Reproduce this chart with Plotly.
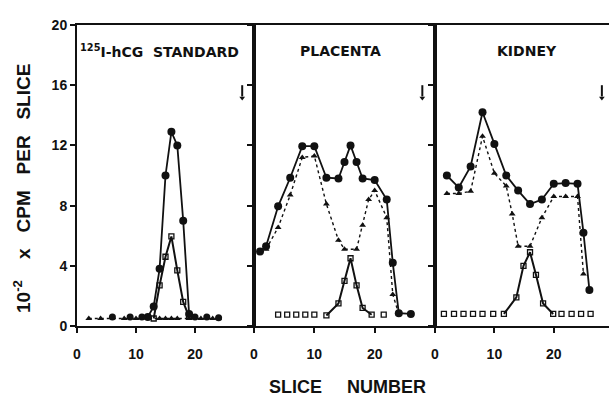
import plotly.graph_objects as go

# ---------------- data ----------------
# Panel 1: 125I-hCG standard
p1_circ_x = [12, 13, 14, 15, 16, 17, 18, 19]
p1_circ_y = [0.6, 1.3, 3.8, 10.0, 12.9, 12.0, 7.0, 0.8]
p1_circ_base_x = [6, 9, 11, 20, 22, 24]
p1_circ_base_y = [0.6, 0.6, 0.6, 0.6, 0.6, 0.55]
p1_tri_x = [2, 4, 8, 10, 12, 14, 15, 16, 17, 19, 21, 23, 24]
p1_tri_y = [0.5, 0.5, 0.5, 0.5, 0.5, 0.5, 0.5, 0.5, 0.5, 0.5, 0.5, 0.5, 0.5]
p1_sq_x = [13, 14, 15, 16, 17, 18, 19]
p1_sq_y = [0.5, 2.7, 4.6, 5.95, 3.7, 1.6, 0.6]
p1_sq_base_x = []
p1_sq_base_y = []

# Panel 2: placenta
p2_circ_x = [1, 2, 4, 6, 8, 10, 12, 14, 15, 16, 17, 18, 20, 22, 23, 24, 26]
p2_circ_y = [4.95, 5.3, 7.95, 9.85, 11.95, 11.95, 9.85, 9.8, 10.9, 12.0, 10.9, 9.8, 9.7, 8.4, 4.2, 0.85, 0.8]
p2_circ_base_x = []
p2_circ_base_y = []
p2_tri_x = [2, 4, 6, 8, 10, 12, 14, 15, 17, 18, 19, 20, 22, 23, 24]
p2_tri_y = [5.1, 6.55, 8.7, 11.2, 11.3, 8.1, 5.7, 5.1, 5.1, 6.7, 8.4, 9.0, 7.2, 2.1, 0.8]
p2_sq_x = [12, 14, 15, 16, 17, 18, 19.5]
p2_sq_y = [0.7, 1.5, 3.0, 4.5, 2.7, 1.2, 0.75]
p2_sq_base_x = [4, 5.5, 7, 8.5, 10, 21.5]
p2_sq_base_y = [0.75, 0.75, 0.75, 0.75, 0.75, 0.75]

# Panel 3: kidney
p3_circ_x = [2, 4, 6, 8, 10, 12, 14, 16, 18, 20, 22, 24, 25, 26]
p3_circ_y = [10.0, 9.2, 10.6, 14.2, 12.1, 10.0, 9.0, 8.1, 8.4, 9.45, 9.5, 9.45, 6.2, 2.4]
p3_circ_base_x = []
p3_circ_base_y = []
p3_tri_x = [2, 4, 6, 8, 10, 12, 13, 14, 16, 18, 20, 22, 24, 25]
p3_tri_y = [8.8, 8.8, 8.95, 12.6, 10.15, 9.3, 7.45, 5.3, 5.3, 7.2, 8.6, 8.6, 8.6, 3.45]
p3_sq_x = [11.6, 13.7, 14.9, 16, 17, 18.2, 19.9]
p3_sq_y = [0.8, 1.9, 4.0, 4.9, 3.4, 1.5, 0.8]
p3_sq_base_x = [1.5, 3.2, 4.8, 6.4, 8, 9.8, 21.3, 23, 24.6, 26.2]
p3_sq_base_y = [0.8] * 10

panel_titles = ["<sup>125</sup>I-hCG\u00a0\u00a0STANDARD", "PLACENTA", "KIDNEY"]
panel_title_x = [14.0, 14.4, 15.5]
# downward arrows (marker slice) in each panel
arrow_x = [28, 27.9, 28.1]
arrow_top = 16.0
arrow_tip = 15.0
x_ticks = [0, 10, 20]
x_tick_labels = ["0", "10", "20"]
y_ticks = [0, 4, 8, 12, 16, 20]
y_tick_labels = ["0", "4", "8", "12", "16", "20"]

panels = [
    (p1_circ_x, p1_circ_y, p1_circ_base_x, p1_circ_base_y, p1_tri_x, p1_tri_y,
     p1_sq_x, p1_sq_y, p1_sq_base_x, p1_sq_base_y),
    (p2_circ_x, p2_circ_y, p2_circ_base_x, p2_circ_base_y, p2_tri_x, p2_tri_y,
     p2_sq_x, p2_sq_y, p2_sq_base_x, p2_sq_base_y),
    (p3_circ_x, p3_circ_y, p3_circ_base_x, p3_circ_base_y, p3_tri_x, p3_tri_y,
     p3_sq_x, p3_sq_y, p3_sq_base_x, p3_sq_base_y),
]

FONT = "Liberation Sans"
WIDE = "DejaVu Sans"
BLACK = "#111111"

fig = go.Figure()
for i, (cx, cy, cbx, cby, tx, ty, sx, sy, sbx, sby) in enumerate(panels):
    xa = "x" if i == 0 else f"x{i+1}"
    ya = "y" if i == 0 else f"y{i+1}"
    fig.add_trace(go.Scatter(x=tx, y=ty, xaxis=xa, yaxis=ya, mode="lines+markers",
                             line=dict(color=BLACK, width=1.4, dash="dot"),
                             marker=dict(symbol="triangle-up", size=6, color=BLACK),
                             showlegend=False))
    fig.add_trace(go.Scatter(x=sx, y=sy, xaxis=xa, yaxis=ya, mode="lines+markers",
                             line=dict(color=BLACK, width=2),
                             marker=dict(symbol="square-open", size=5, color=BLACK,
                                         line=dict(width=1.3, color=BLACK)),
                             showlegend=False))
    if sbx:
        fig.add_trace(go.Scatter(x=sbx, y=sby, xaxis=xa, yaxis=ya, mode="markers",
                                 marker=dict(symbol="square-open", size=5, color=BLACK,
                                             line=dict(width=1.3, color=BLACK)),
                                 showlegend=False))
    fig.add_trace(go.Scatter(x=cx, y=cy, xaxis=xa, yaxis=ya, mode="lines+markers",
                             line=dict(color=BLACK, width=1.8),
                             marker=dict(symbol="circle", size=8, color=BLACK),
                             showlegend=False))
    if cbx:
        fig.add_trace(go.Scatter(x=cbx, y=cby, xaxis=xa, yaxis=ya, mode="markers",
                                 marker=dict(symbol="circle", size=7, color=BLACK),
                                 showlegend=False))
    # arrow: shaft + head
    fig.add_trace(go.Scatter(x=[arrow_x[i], arrow_x[i]], y=[arrow_top, arrow_tip + 0.25],
                             xaxis=xa, yaxis=ya, mode="lines",
                             line=dict(color=BLACK, width=2), showlegend=False))
    fig.add_trace(go.Scatter(x=[arrow_x[i]], y=[arrow_tip + 0.15], xaxis=xa, yaxis=ya,
                             mode="markers",
                             marker=dict(symbol="triangle-down", size=5, color=BLACK),
                             showlegend=False))

W, H = 609, 398
PL, PT, PB = 77, 25, 326            # plot-area edges in window pixels
ph = PB - PT
B = H - PB
pw = W - PL
d1 = (254 - PL) / pw
d2 = (435 - PL) / pw

tickfont = dict(family=FONT, size=14, color=BLACK, weight="bold")
axis_common = dict(showgrid=False, zeroline=False, linecolor=BLACK, linewidth=2,
                   ticks="outside", tickcolor=BLACK, tickwidth=2, ticklen=5,
                   tickfont=tickfont)
xt = dict(tickmode="array", tickvals=x_ticks, ticktext=[f"<b>{t}</b>" for t in x_tick_labels],
          ticklabelstandoff=9)
yt = dict(tickmode="array", tickvals=y_ticks, ticktext=[f"<b>{t}</b>" for t in y_tick_labels])

layout = dict(
    width=W, height=H, margin=dict(l=PL, r=0, t=PT, b=B),
    paper_bgcolor="white", plot_bgcolor="white",
    font=dict(family=FONT, color=BLACK),
    xaxis=dict(domain=[0, d1], range=[0, 30], anchor="y", mirror=True, **xt, **axis_common),
    xaxis2=dict(domain=[d1, d2], range=[0, 30], anchor="y2", mirror=True, **xt, **axis_common),
    xaxis3=dict(domain=[d2, 1], range=[0, 29.3], anchor="y3", mirror=True, **xt, **axis_common),
    yaxis=dict(domain=[0, 1], range=[0, 20], anchor="x", mirror=True, **yt, **axis_common),
    yaxis2=dict(domain=[0, 1], range=[0, 20], anchor="x2", mirror=True,
                showticklabels=False, **yt, **axis_common),
    yaxis3=dict(domain=[0, 1], range=[0, 20], anchor="x3", mirror=False,
                showticklabels=False, **yt, **axis_common),
)
fig.update_layout(**layout)

annotations = []
for i in range(3):
    xr = "x" if i == 0 else f"x{i+1}"
    yr = "y" if i == 0 else f"y{i+1}"
    annotations.append(dict(x=panel_title_x[i], y=18.3, xref=xr, yref=yr, text=panel_titles[i],
                            showarrow=False, font=dict(family=WIDE, size=14, color=BLACK, weight="bold")))

annotations.append(dict(x=(22 - PL) / pw, y=(PB - 189) / ph, xref="paper", yref="paper",
                        text="10<sup>-2</sup>\u00a0\u00a0\u00a0\u00a0x\u00a0\u00a0\u00a0CPM\u00a0\u00a0\u00a0PER\u00a0\u00a0\u00a0SLICE",
                        textangle=-90, showarrow=False, xanchor="center", yanchor="middle",
                        font=dict(family=FONT, size=19, color=BLACK, weight="bold")))
annotations.append(dict(x=(347 - PL) / pw, y=(PB - 387) / ph, xref="paper", yref="paper",
                        text="SLICE\u00a0\u00a0\u00a0\u00a0\u00a0NUMBER", showarrow=False,
                        xanchor="center", yanchor="middle",
                        font=dict(family=FONT, size=18, color=BLACK, weight="bold")))
fig.update_layout(annotations=annotations)

# remove the default page margin so the figure fills the 609x398 window exactly
fig.write_html("out.html", config={"displayModeBar": False},
               post_script="document.body.style.margin='0';")
